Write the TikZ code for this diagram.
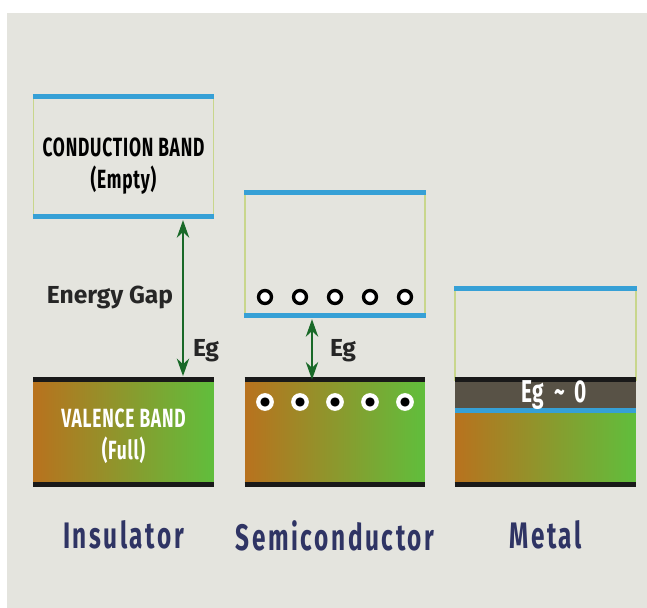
\documentclass[tikz,border=0pt]{standalone}
\usepackage{fontspec}
\setmainfont{Fira Sans}
\setsansfont{Fira Sans}
\newfontfamily\dinfont[FakeStretch=0.66,LetterSpace=7]{Fira Sans}
\newfontfamily\bandfont[FakeStretch=0.66,LetterSpace=3]{Fira Sans}
\usetikzlibrary{arrows.meta, positioning, calc}
\definecolor{paper}{RGB}{228, 228, 222}
\definecolor{bandblue}{RGB}{54, 160, 214}
\definecolor{bandside}{RGB}{200, 214, 140}
\definecolor{bandorange}{RGB}{184, 114, 30}
\definecolor{bandgreen}{RGB}{96, 190, 60}
\definecolor{gapgreen}{RGB}{25, 105, 40}
\definecolor{labelnavy}{RGB}{47, 52, 100}
\definecolor{metaldark}{RGB}{88, 82, 70}

\begin{document}
\begin{tikzpicture}[
    x=0.02cm, y=-0.02cm,
    node distance=0.5cm,
    emptyband/.style={draw=bandside, line width=0.7pt, minimum width=3.6cm, inner sep=0pt, align=center},
    fullband/.style={left color=bandorange, right color=bandgreen, minimum width=3.6cm, minimum height=2.08cm, inner sep=0pt, align=center},
    blueedge/.style={bandblue, line width=2.6pt},
    blackedge/.style={black!90, line width=2.6pt},
    gaparrow/.style={{Stealth[length=10pt,width=7pt]}-{Stealth[length=10pt,width=7pt]}, line width=1.5pt, gapgreen},
    hole/.style={circle, draw=black, line width=1.9pt, fill=white, minimum size=0.26cm, inner sep=0pt},
    electron/.style={circle, draw=white, line width=2.4pt, fill=black, minimum size=0.27cm, inner sep=0pt},
    gaptext/.style={font=\bfseries\fontsize{14pt}{16pt}\selectfont, text=black!85},
    bandtext/.style={font=\bandfont\bfseries\fontsize{15pt}{18pt}\selectfont, align=center},
    caption/.style={font=\dinfont\bfseries\fontsize{21pt}{24pt}\selectfont, text=labelnavy}
]

    % --- BACKGROUND ---
    \useasboundingbox (0,0) rectangle (647,608);
    \fill[white] (0,0) rectangle (647,608);
    \fill[paper] (7,13) rectangle (647,608);

    % --- INSULATOR ---
    \node[emptyband, minimum height=2.38cm] (icond) at (123.5,156.5) {};
    \draw[blueedge] (icond.north west) -- (icond.north east);
    \draw[blueedge] (icond.south west) -- (icond.south east);
    \node[bandtext] (icondtext) at (123.5,166) {CONDUCTION BAND\\(Empty)};

    \node[fullband] (ival) at (123.5,432) {};
    \draw[blackedge] (ival.north west) -- (ival.north east);
    \draw[blackedge] (ival.south west) -- (ival.south east);
    \node[bandtext, text=white] (ivaltext) at (123.5,436) {VALENCE BAND\\(Full)};

    \coordinate (iarr) at (183,0);
    \draw[gaparrow, shorten <=2pt, shorten >=2pt] (icond.south -| iarr) -- (ival.north -| iarr);
    \node[gaptext] (igap) at (110,297) {Energy Gap};
    \node[gaptext] (ieg) at (206,351) {Eg};

    \node[caption, below=0.6cm of ival] (ilabel) {Insulator};

    % --- SEMICONDUCTOR ---
    \node[emptyband, minimum height=2.44cm] (scond) at (335,254) {};
    \draw[blueedge] (scond.north west) -- (scond.north east);
    \draw[blueedge] (scond.south west) -- (scond.south east);

    \node[fullband] (sval) at (335,432) {};
    \draw[blackedge] (sval.north west) -- (sval.north east);
    \draw[blackedge] (sval.south west) -- (sval.south east);

    \foreach \i/\hx in {1/265, 2/300, 3/335, 4/370, 5/405} {
        \node[hole] (h\i) at (\hx,297) {};
        \node[electron] (e\i) at (\hx,402) {};
    }

    \coordinate (sarr) at (312,0);
    \draw[gaparrow, shorten <=2pt] (scond.south -| sarr) -- (sval.north -| sarr);
    \node[gaptext] (seg) at (343,351) {Eg};

    \node[caption, below=0.6cm of sval] (slabel) {Semiconductor};

    % --- METAL ---
    \node[emptyband, minimum height=1.82cm, minimum width=3.62cm] (mcond) at (545.5,334.5) {};
    \draw[blueedge] (mcond.north west) -- (mcond.north east);

    \node[fill=metaldark, minimum width=3.62cm, minimum height=0.6cm, inner sep=0pt] (mgap) at (545.5,395) {};
    \node[fullband, minimum width=3.62cm, minimum height=1.48cm] (mval) at (545.5,447) {};
    \draw[blackedge] (mgap.north west) -- (mgap.north east);
    \draw[blueedge] (mgap.south west) -- (mgap.south east);
    \draw[blackedge] (mval.south west) -- (mval.south east);
    \node[text=white, font=\bandfont\bfseries\fontsize{18pt}{20pt}\selectfont] (mgaptext) at (554,395) {Eg\hspace{0.2cm}\textasciitilde\hspace{0.2cm}0};

    \node[caption, below=0.6cm of mval] (mlabel) {Metal};

\end{tikzpicture}
\end{document}
